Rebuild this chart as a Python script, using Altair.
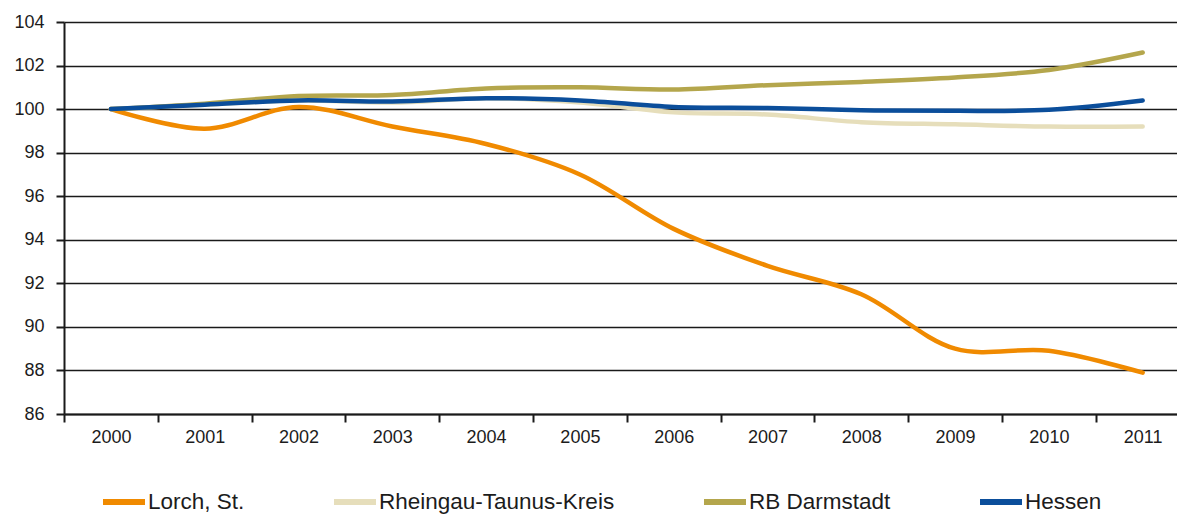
import altair as alt
import pandas as pd

# Population index, 2000 = 100
years = list(range(2000, 2012))
series_names = ["Lorch, St.", "Rheingau-Taunus-Kreis", "RB Darmstadt", "Hessen"]
series_colors = ["#F08A00", "#E6DEBB", "#B4A64C", "#0B4E9B"]

lorch = [100.0, 99.1, 100.1, 99.2, 98.4, 97.0, 94.5, 92.8, 91.5, 89.0, 88.9, 87.9]
rheingau = [100.0, 100.2, 100.4, 100.3, 100.5, 100.3, 99.85, 99.75, 99.4, 99.3, 99.2, 99.2]
darmstadt = [100.0, 100.25, 100.6, 100.65, 100.95, 101.0, 100.9, 101.1, 101.25, 101.45, 101.8, 102.6]
hessen = [100.0, 100.2, 100.4, 100.35, 100.5, 100.4, 100.1, 100.05, 99.95, 99.92, 99.97, 100.4]

y_ticks = list(range(86, 105, 2))
x_ticks = [i - 0.5 for i in range(len(years))]

rows = []
for name, vals in zip(series_names, [lorch, rheingau, darmstadt, hessen]):
    for i, (yr, v) in enumerate(zip(years, vals)):
        rows.append({"idx": i, "year": yr, "series": name, "value": v})
df = pd.DataFrame(rows)

FONT = "Liberation Sans, Arial, sans-serif"
TEXT = "#1c1c1c"

x_enc = alt.X(
    "idx:Q",
    scale=alt.Scale(domain=[-0.5, 11.366], nice=False, zero=False),
    axis=alt.Axis(
        values=x_ticks,
        labelExpr="toString(datum.value + 2000.5)",
        labelOffset=46.9,
        labelOverlap=False,
        labelFlush=False,
        labelBound=False,
        grid=False,
        tickSize=8,
        labelPadding=6,
        title=None,
    ),
)
y_enc = alt.Y(
    "value:Q",
    scale=alt.Scale(domain=[86, 104], nice=False, zero=False),
    axis=alt.Axis(
        values=y_ticks,
        grid=True,
        tickSize=8,
        labelPadding=12,
        title=None,
    ),
)
color_enc = alt.Color(
    "series:N",
    scale=alt.Scale(domain=series_names, range=series_colors),
    legend=alt.Legend(
        title=None,
        orient="none",
        direction="horizontal",
        legendX=36,
        legendY=456,
        symbolType="stroke",
        symbolSize=1764,
        symbolStrokeWidth=6,
        symbolOpacity=1,
        labelFont=FONT,
        labelFontSize=22.5,
        labelColor=TEXT,
        labelOffset=0,
        labelLimit=600,
        columnPadding=77,
    ),
)

base = alt.Chart(df).mark_line(
    interpolate="catmull-rom", strokeWidth=4.5, strokeCap="round", strokeJoin="round"
).encode(x=x_enc, y=y_enc, color=color_enc)

# one layer per series so Hessen is drawn on top
layers = [base.transform_filter(alt.datum.series == n) for n in series_names]

chart = (
    alt.layer(*layers)
    .properties(
        width=1113,
        height=392,
        padding={"left": 64, "top": 22, "right": 0, "bottom": 102},
        autosize="none",
        background="white",
    )
    .configure_view(stroke=None)
    .configure_axis(
        labelFont=FONT,
        labelFontSize=18,
        labelColor=TEXT,
        domainColor="#1a1a1a",
        domainWidth=2,
        tickColor="#1a1a1a",
        tickWidth=2,
        gridColor="#1a1a1a",
        gridWidth=1.6,
        gridOpacity=1,
    )
)

chart.save("out.html", embed_options={"renderer": "svg", "actions": False})
